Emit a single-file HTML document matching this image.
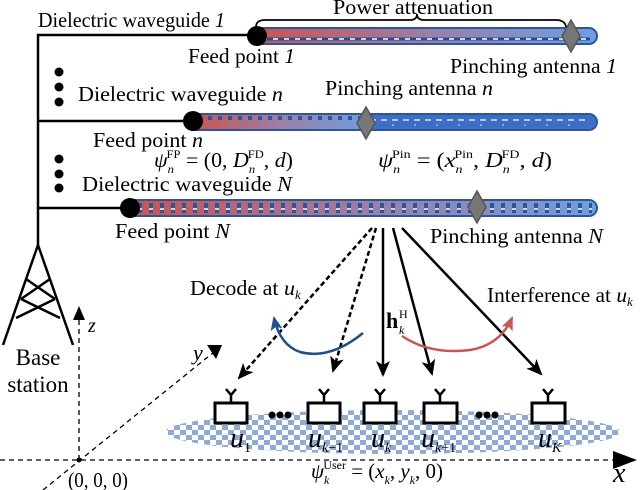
<!DOCTYPE html>
<html><head><meta charset="utf-8"><style>
html,body{margin:0;padding:0;background:#fff;}
svg, svg text{font-family:"Liberation Serif","DejaVu Serif",serif;}
svg{display:block;}
</style></head><body>
<svg width="640" height="490" viewBox="0 0 640 490" xmlns="http://www.w3.org/2000/svg" font-family="Liberation Serif, DejaVu Serif, serif">
<defs>
<linearGradient id="g1" x1="257" x2="597" gradientUnits="userSpaceOnUse"><stop offset="0" stop-color="#c9554f"/><stop offset="0.5" stop-color="#9b7fa6"/><stop offset="1" stop-color="#6f9ee0"/></linearGradient>
<linearGradient id="g2" x1="193" x2="366" gradientUnits="userSpaceOnUse"><stop offset="0" stop-color="#c9554f"/><stop offset="0.5" stop-color="#9b7fa6"/><stop offset="1" stop-color="#6f9ee0"/></linearGradient>
<linearGradient id="g3" x1="130" x2="597" gradientUnits="userSpaceOnUse"><stop offset="0" stop-color="#c9554f"/><stop offset="0.5" stop-color="#9b7fa6"/><stop offset="1" stop-color="#6f9ee0"/></linearGradient>
<pattern id="chk" width="12" height="10" patternUnits="userSpaceOnUse"><rect width="12" height="10" fill="#fff"/><rect width="6" height="5" fill="#8eaad6"/><rect x="6" y="5" width="6" height="5" fill="#8eaad6"/></pattern>
<marker id="ahl" markerWidth="16" markerHeight="14" refX="14" refY="7" orient="auto" markerUnits="userSpaceOnUse"><path d="M0,0 L16,7 L0,14 L4,7 Z" fill="#000"/></marker>
<marker id="ahb" markerWidth="14" markerHeight="12" refX="12" refY="6" orient="auto" markerUnits="userSpaceOnUse"><path d="M0,0 L14,6 L0,12 L3,6 Z" fill="#1f4e8c"/></marker>
<marker id="ahr" markerWidth="14" markerHeight="12" refX="12" refY="6" orient="auto" markerUnits="userSpaceOnUse"><path d="M0,0 L14,6 L0,12 L3,6 Z" fill="#c9554f"/></marker>
</defs>

<g stroke="#000" stroke-width="2.5" fill="none">
<polyline points="257,35 38,35 38,245"/>
<line x1="38" y1="121" x2="193" y2="121"/>
<line x1="38" y1="208" x2="130" y2="208"/>
</g>

<rect x="250" y="28" width="347" height="16" rx="8" fill="url(#g1)" stroke="#2f5597" stroke-width="2"/>
<line x1="262" y1="39" x2="590" y2="39" stroke="#1f4e9c" stroke-width="3"/>
<line x1="262" y1="39" x2="590" y2="39" stroke="#fff" stroke-width="1.5" stroke-dasharray="5,6"/>

<rect x="186" y="114" width="411" height="16" rx="8" fill="#3b6ec4" stroke="#2f5597" stroke-width="2"/>
<rect x="193" y="115" width="173" height="14" fill="url(#g2)"/>
<line x1="198" y1="118" x2="366" y2="118" stroke="#2f5597" stroke-width="4" stroke-dasharray="4,6"/>
<line x1="370" y1="120" x2="590" y2="120" stroke="#fff" stroke-width="1.3" stroke-dasharray="6,5"/>
<line x1="370" y1="125" x2="590" y2="125" stroke="#cfdcf2" stroke-width="1" stroke-dasharray="2,20"/>

<rect x="123" y="200" width="474" height="16" rx="8" fill="url(#g3)" stroke="#2f5597" stroke-width="2"/>
<line x1="138" y1="208" x2="592" y2="208" stroke="#2f5597" stroke-width="10" stroke-dasharray="4,7"/>
<line x1="138" y1="209" x2="592" y2="209" stroke="#fff" stroke-width="1.5" stroke-dasharray="4,7"/>

<circle cx="257" cy="36" r="10" fill="#000"/>
<circle cx="193" cy="121" r="10" fill="#000"/>
<circle cx="130" cy="208" r="10" fill="#000"/>

<g fill="#777" stroke="#555" stroke-width="1.5">
<path d="M571,20 L580,36 L571,52 L562,36 Z"/>
<path d="M366,107 L375,123 L366,139 L357,123 Z"/>
<path d="M477,191 L486,207 L477,223 L468,207 Z"/>
</g>

<path d="M256,27 Q256,20 265,20 L410,20 Q417,20 417,14 Q417,20 424,20 L556,20 Q565,20 566,27" fill="none" stroke="#000" stroke-width="1.8"/>

<g fill="#000">
<circle cx="59" cy="72" r="4.5"/><circle cx="59" cy="87" r="4.5"/><circle cx="59" cy="102" r="4.5"/>
<circle cx="59" cy="159" r="4.5"/><circle cx="59" cy="174" r="4.5"/><circle cx="59" cy="188" r="4.5"/>
</g>

<g font-size="21" fill="#000">
<text x="38" y="27" textLength="187" lengthAdjust="spacingAndGlyphs">Dielectric waveguide <tspan font-style="italic">1</tspan></text>
<text x="333" y="14" textLength="160" lengthAdjust="spacingAndGlyphs">Power attenuation</text>
<text x="188" y="63" textLength="107" lengthAdjust="spacingAndGlyphs">Feed point <tspan font-style="italic">1</tspan></text>
<text x="450" y="73" textLength="167" lengthAdjust="spacingAndGlyphs">Pinching antenna <tspan font-style="italic">1</tspan></text>
<text x="78" y="101" textLength="205" lengthAdjust="spacingAndGlyphs">Dielectric waveguide <tspan font-style="italic">n</tspan></text>
<text x="325" y="95" textLength="168" lengthAdjust="spacingAndGlyphs">Pinching antenna <tspan font-style="italic">n</tspan></text>
<text x="93" y="147" textLength="110" lengthAdjust="spacingAndGlyphs">Feed point <tspan font-style="italic">n</tspan></text>
<text x="82" y="191" textLength="210" lengthAdjust="spacingAndGlyphs">Dielectric waveguide <tspan font-style="italic">N</tspan></text>
<text x="115" y="238" textLength="115" lengthAdjust="spacingAndGlyphs">Feed point <tspan font-style="italic">N</tspan></text>
<text x="430" y="243" textLength="173" lengthAdjust="spacingAndGlyphs">Pinching antenna <tspan font-style="italic">N</tspan></text>
</g>
<g font-size="21" fill="#000">
<text x="154" y="167" textLength="139" lengthAdjust="spacingAndGlyphs"><tspan font-style="italic">ψ</tspan><tspan font-size="12" dy="6" font-style="italic">n</tspan><tspan font-size="12" dx="-7" dy="-15">FP</tspan><tspan dy="9"> = (0, </tspan><tspan font-style="italic">D</tspan><tspan font-size="12" dy="6" font-style="italic">n</tspan><tspan font-size="12" dx="-7" dy="-15">FD</tspan><tspan dy="9">, </tspan><tspan font-style="italic">d</tspan><tspan>)</tspan></text>
<text x="378" y="167" textLength="174" lengthAdjust="spacingAndGlyphs"><tspan font-style="italic">ψ</tspan><tspan font-size="12" dy="6" font-style="italic">n</tspan><tspan font-size="12" dx="-7" dy="-15">Pin</tspan><tspan dy="9"> = (</tspan><tspan font-style="italic">x</tspan><tspan font-size="12" dy="6" font-style="italic">n</tspan><tspan font-size="12" dx="-7" dy="-15">Pin</tspan><tspan dy="9">, </tspan><tspan font-style="italic">D</tspan><tspan font-size="12" dy="6" font-style="italic">n</tspan><tspan font-size="12" dx="-7" dy="-15">FD</tspan><tspan dy="9">, </tspan><tspan font-style="italic">d</tspan><tspan>)</tspan></text>
</g>

<g stroke="#000" stroke-width="2.5" fill="none">
<line x1="38" y1="245" x2="3" y2="345"/>
<line x1="38" y1="245" x2="73" y2="345"/>
<line x1="26" y1="279" x2="55" y2="299"/>
<line x1="50" y1="279" x2="21" y2="299"/>
<line x1="21" y1="299" x2="60" y2="318"/>
<line x1="55" y1="299" x2="16" y2="318"/>
</g>
<text x="38" y="365" font-size="23" text-anchor="middle">Base</text>
<text x="38" y="392" font-size="23" text-anchor="middle">station</text>

<g stroke="#000" stroke-width="1.3" stroke-dasharray="5,4" fill="none">
<line x1="0" y1="460" x2="615" y2="460"/>
<line x1="79" y1="460" x2="79" y2="318"/>
<line x1="43" y1="490" x2="214" y2="352"/>
</g>
<path d="M613,451 L637,460 L613,469 Z" fill="#000"/>
<path d="M73,320 L79,306 L85,320 Z" fill="#000"/>
<path d="M207,345 L222,345 L216,359 Z" fill="#000"/>
<circle cx="79" cy="460" r="2.5" fill="#000"/>
<text x="88" y="332" font-size="20" font-style="italic">z</text>
<text x="193" y="360" font-size="22" font-style="italic">y</text>
<text x="613" y="482" font-size="28" font-style="italic">x</text>
<text x="68" y="487" font-size="21" textLength="60" lengthAdjust="spacingAndGlyphs">(0, 0, 0)</text>
<text x="311" y="478" font-size="21" textLength="132" lengthAdjust="spacingAndGlyphs"><tspan font-style="italic">ψ</tspan><tspan font-size="12" dy="6" font-style="italic">k</tspan><tspan font-size="12" dx="-6" dy="-15">User</tspan><tspan dy="9"> = (</tspan><tspan font-style="italic">x</tspan><tspan font-size="12" dy="6" font-style="italic">k</tspan><tspan dy="-6">, </tspan><tspan font-style="italic">y</tspan><tspan font-size="12" dy="6" font-style="italic">k</tspan><tspan dy="-6">, 0)</tspan></text>

<ellipse cx="393" cy="432" rx="228" ry="22" fill="url(#chk)"/>

<g stroke="#000" stroke-width="2.5" fill="none">
<line x1="372" y1="228" x2="239" y2="378" stroke-dasharray="5,3" marker-end="url(#ahl)"/>
<line x1="376" y1="228" x2="333" y2="371" stroke-dasharray="5,3" marker-end="url(#ahl)"/>
<line x1="383" y1="228" x2="383" y2="375" marker-end="url(#ahl)"/>
<line x1="393" y1="228" x2="432" y2="374" marker-end="url(#ahl)"/>
<line x1="402" y1="228" x2="541" y2="374" marker-end="url(#ahl)"/>
</g>
<path d="M363,333 Q330,360 300,352 Q280,345 274,318" fill="none" stroke="#1f4e8c" stroke-width="2.5" marker-end="url(#ahb)"/>
<path d="M402,336 Q430,355 470,350 Q500,345 512,318" fill="none" stroke="#c9554f" stroke-width="2.5" marker-end="url(#ahr)"/>

<text x="190" y="295" font-size="21" textLength="105" lengthAdjust="spacingAndGlyphs">Decode at <tspan font-style="italic">u</tspan></text>
<text x="295" y="299" font-size="13" font-style="italic">k</text>
<text x="487" y="302" font-size="21" textLength="140" lengthAdjust="spacingAndGlyphs">Interference at <tspan font-style="italic">u</tspan></text>
<text x="627" y="306" font-size="13" font-style="italic">k</text>
<text x="386" y="328" font-size="22" font-weight="bold">h</text><text x="399" y="334" font-size="12" font-style="italic">k</text><text x="399" y="318" font-size="12">H</text>

<g stroke="#000" stroke-width="3" fill="#fff">
<rect x="215" y="403" width="32" height="20"/>
<rect x="308" y="403" width="32" height="20"/>
<rect x="364" y="403" width="32" height="20"/>
<rect x="424" y="403" width="33" height="20"/>
<rect x="532" y="403" width="33" height="20"/>
</g>
<g stroke="#000" stroke-width="2.5" fill="none">
<path d="M231,403 V395 M226,389 L231,395 L236,389"/>
<path d="M324,403 V395 M319,389 L324,395 L329,389"/>
<path d="M380,403 V395 M375,389 L380,395 L385,389"/>
<path d="M440,403 V395 M435,389 L440,395 L445,389"/>
<path d="M548,403 V395 M543,389 L548,395 L553,389"/>
</g>
<g fill="#000">
<circle cx="272" cy="415" r="3.5"/><circle cx="280" cy="415" r="3.5"/><circle cx="288" cy="415" r="3.5"/>
<circle cx="479" cy="415" r="3.5"/><circle cx="487" cy="415" r="3.5"/><circle cx="495" cy="415" r="3.5"/>
</g>
<g font-size="28" font-style="italic">
<text x="230" y="447">u<tspan font-size="14" font-style="normal" dy="5">1</tspan></text>
<text x="308" y="447">u<tspan font-size="14" dy="5">k</tspan><tspan font-size="14" font-style="normal">−1</tspan></text>
<text x="371" y="447">u<tspan font-size="14" dy="5">k</tspan></text>
<text x="421" y="447">u<tspan font-size="14" dy="5">k</tspan><tspan font-size="14" font-style="normal">+1</tspan></text>
<text x="538" y="447">u<tspan font-size="14" dy="5">K</tspan></text>
</g>
</svg>
</body></html>
